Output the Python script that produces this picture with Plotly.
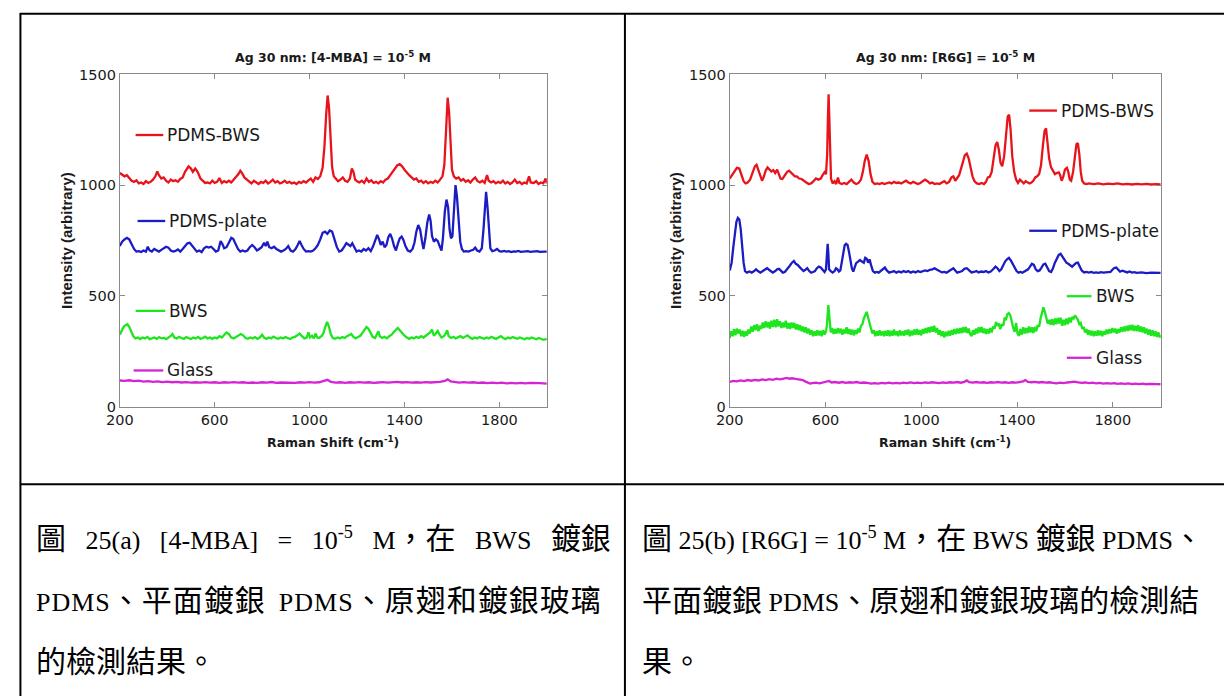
import plotly.graph_objects as go

# ---------------- data ----------------
# Panel (a): [4-MBA] = 1e-5 M
mba_pdms_bws = [(200,1055),(210,1048),(220,1040),(230,1045),(240,1030),(250,1020),(260,1015),(270,1022),(280,1008),(290,1012),(300,1005),(310,1018),(320,1010),(330,1015),(340,1025),(350,1040),(358,1062),(365,1045),(375,1030),(385,1035),(395,1020),(405,1012),(415,1025),(425,1018),(435,1022),(445,1015),(455,1028),(465,1035),(475,1060),(490,1085),(500,1075),(508,1060),(518,1075),(528,1060),(540,1030),(550,1018),(560,1010),(570,1012),(580,1008),(590,1020),(600,1010),(610,1015),(620,1032),(630,1010),(640,1018),(650,1012),(660,1020),(670,1012),(680,1025),(690,1035),(700,1050),(708,1065),(715,1055),(725,1035),(735,1025),(745,1015),(755,1008),(765,1020),(775,1012),(785,1005),(795,1015),(805,1010),(815,1020),(825,1008),(835,1015),(845,1025),(855,1012),(865,1018),(875,1008),(885,1012),(895,1020),(905,1010),(915,1015),(925,1008),(935,1012),(945,1005),(955,1015),(965,1010),(975,1018),(985,1012),(995,1022),(1005,1030),(1015,1015),(1025,1035),(1035,1028),(1045,1040),(1055,1080),(1063,1180),(1070,1320),(1076,1405),(1082,1350),(1088,1200),(1095,1080),(1102,1040),(1110,1030),(1120,1018),(1130,1025),(1140,1035),(1150,1020),(1160,1015),(1170,1030),(1178,1075),(1185,1060),(1192,1025),(1200,1018),(1210,1012),(1220,1020),(1230,1010),(1240,1030),(1250,1015),(1260,1022),(1270,1010),(1280,1015),(1290,1008),(1300,1018),(1310,1012),(1320,1025),(1330,1030),(1340,1045),(1350,1060),(1360,1075),(1370,1090),(1380,1095),(1390,1085),(1400,1070),(1410,1055),(1420,1045),(1430,1035),(1440,1025),(1450,1030),(1460,1015),(1470,1020),(1480,1010),(1490,1018),(1500,1008),(1510,1015),(1520,1010),(1530,1020),(1540,1012),(1550,1025),(1560,1040),(1568,1090),(1575,1250),(1582,1395),(1588,1330),(1594,1170),(1600,1070),(1608,1040),(1618,1030),(1628,1035),(1638,1020),(1648,1028),(1658,1015),(1668,1022),(1678,1012),(1688,1025),(1698,1035),(1708,1018),(1718,1012),(1728,1020),(1738,1010),(1748,1045),(1755,1020),(1765,1012),(1775,1018),(1785,1008),(1795,1015),(1805,1010),(1815,1020),(1825,1008),(1835,1015),(1845,1005),(1855,1012),(1865,1025),(1875,1010),(1885,1015),(1895,1005),(1905,1012),(1915,1008),(1925,1040),(1932,1012),(1945,1010),(1955,1018),(1965,1005),(1975,1012),(1985,1008),(1995,1030),(2000,1008)]

mba_pdms_plate = [(200,725),(210,745),(220,755),(230,762),(240,755),(250,735),(260,712),(270,700),(280,702),(290,698),(300,705),(310,700),(318,722),(326,705),(335,700),(345,712),(355,705),(365,700),(375,708),(385,715),(395,722),(405,718),(415,705),(425,700),(435,703),(445,710),(455,700),(465,712),(475,725),(485,738),(495,740),(505,728),(515,712),(525,700),(535,705),(545,698),(555,715),(565,722),(575,718),(585,722),(595,712),(605,700),(615,705),(625,748),(632,735),(640,715),(650,720),(660,745),(670,762),(678,758),(688,735),(698,712),(708,700),(718,705),(728,700),(738,705),(748,720),(758,730),(768,720),(778,705),(788,712),(798,720),(808,740),(815,725),(822,745),(830,720),(840,715),(850,722),(860,712),(870,705),(880,700),(890,705),(900,712),(910,725),(920,705),(930,700),(940,710),(950,730),(958,748),(966,730),(975,712),(985,700),(995,702),(1005,700),(1015,705),(1025,715),(1035,730),(1045,755),(1055,785),(1065,790),(1075,780),(1085,795),(1095,790),(1105,755),(1115,720),(1125,700),(1135,705),(1145,720),(1155,738),(1163,732),(1172,725),(1180,738),(1188,718),(1198,700),(1208,705),(1218,700),(1228,712),(1238,705),(1248,715),(1258,702),(1268,725),(1278,760),(1285,775),(1293,755),(1300,730),(1308,745),(1316,720),(1324,730),(1332,765),(1340,780),(1348,758),(1356,725),(1364,705),(1372,735),(1380,760),(1388,768),(1396,752),(1404,725),(1414,705),(1424,700),(1434,712),(1442,740),(1450,790),(1458,820),(1466,800),(1474,745),(1480,712),(1488,760),(1496,830),(1504,868),(1510,840),(1516,770),(1524,745),(1532,755),(1540,748),(1548,725),(1556,705),(1562,760),(1570,880),(1577,935),(1584,900),(1590,800),(1596,760),(1602,770),(1608,900),(1615,1000),(1621,950),(1628,820),(1635,745),(1642,712),(1650,700),(1660,702),(1670,700),(1680,705),(1690,708),(1698,718),(1706,705),(1716,700),(1726,715),(1733,800),(1739,930),(1744,970),(1750,900),(1756,780),(1762,715),(1770,702),(1780,705),(1790,712),(1800,702),(1810,700),(1820,703),(1830,700),(1840,702),(1850,698),(1860,701),(1870,700),(1880,703),(1890,699),(1900,701),(1910,700),(1920,702),(1930,699),(1940,701),(1950,700),(1960,702),(1970,699),(1980,701),(1990,700),(2000,700)]

mba_bws = [(200,325),(208,345),(216,360),(224,368),(232,372),(240,360),(248,340),(256,320),(266,308),(276,312),(286,305),(296,312),(306,308),(316,315),(326,305),(336,310),(346,312),(356,306),(366,314),(376,308),(386,310),(396,305),(406,312),(416,320),(422,328),(430,312),(440,308),(450,315),(460,310),(470,306),(480,314),(490,310),(500,305),(510,312),(520,308),(530,315),(540,306),(550,310),(560,316),(570,308),(580,312),(590,306),(600,312),(610,308),(620,318),(630,312),(640,325),(650,335),(660,328),(670,312),(680,308),(690,315),(700,318),(710,328),(720,322),(730,310),(740,306),(750,312),(760,308),(770,314),(780,306),(790,312),(800,325),(808,312),(818,306),(828,312),(838,308),(848,316),(858,310),(868,306),(878,312),(888,308),(898,314),(908,310),(918,305),(928,312),(938,315),(948,322),(958,330),(968,318),(978,308),(988,312),(995,335),(1002,312),(1010,320),(1018,308),(1025,330),(1032,312),(1040,310),(1050,318),(1058,330),(1066,360),(1074,382),(1082,360),(1090,325),(1098,310),(1108,306),(1118,312),(1128,308),(1138,314),(1148,310),(1158,318),(1168,322),(1176,328),(1184,316),(1194,308),(1204,314),(1214,320),(1224,335),(1232,350),(1240,360),(1248,352),(1256,335),(1266,315),(1276,310),(1284,325),(1290,340),(1296,318),(1306,310),(1316,315),(1326,308),(1336,318),(1346,325),(1356,338),(1364,348),(1372,355),(1380,345),(1390,330),(1400,320),(1410,312),(1420,306),(1430,312),(1440,308),(1450,315),(1460,310),(1470,318),(1480,312),(1490,320),(1500,328),(1508,335),(1516,348),(1524,320),(1532,330),(1540,342),(1548,325),(1556,312),(1566,318),(1574,330),(1580,345),(1586,318),(1596,310),(1606,315),(1616,308),(1626,312),(1636,318),(1646,310),(1656,316),(1666,322),(1676,312),(1686,306),(1696,312),(1706,308),(1716,314),(1726,310),(1736,306),(1746,312),(1756,308),(1766,315),(1776,310),(1786,306),(1796,312),(1806,318),(1816,310),(1826,305),(1836,312),(1846,308),(1856,314),(1866,310),(1876,306),(1886,312),(1896,308),(1906,304),(1916,310),(1926,306),(1936,312),(1946,308),(1956,304),(1966,310),(1976,306),(1986,302),(2000,306)]

mba_glass = [(200,118),(220,116),(240,119),(260,115),(280,117),(300,113),(320,115),(340,112),(360,114),(380,111),(400,113),(420,110),(440,112),(460,109),(480,111),(500,108),(520,110),(540,108),(560,111),(580,108),(600,110),(620,107),(640,110),(660,108),(680,111),(700,108),(720,110),(740,107),(760,109),(780,107),(800,110),(820,108),(840,111),(860,107),(880,109),(900,108),(920,110),(940,107),(960,110),(980,108),(1000,111),(1020,108),(1040,110),(1060,115),(1075,121),(1090,112),(1110,108),(1130,110),(1150,107),(1170,110),(1190,108),(1210,111),(1230,108),(1250,110),(1270,107),(1290,109),(1310,111),(1330,108),(1350,110),(1370,112),(1390,109),(1410,111),(1430,108),(1450,110),(1470,108),(1490,111),(1510,109),(1530,110),(1550,112),(1570,116),(1582,123),(1595,114),(1610,110),(1630,108),(1650,111),(1670,108),(1690,110),(1710,107),(1730,109),(1750,106),(1770,108),(1790,106),(1810,108),(1830,105),(1850,107),(1870,105),(1890,107),(1910,105),(1930,107),(1950,105),(1970,106),(2000,104)]

# Panel (b): [R6G] = 1e-5 M
r6g_pdms_bws = [(200,1030),(210,1045),(220,1060),(230,1078),(240,1075),(250,1045),(258,1018),(266,1008),(275,1012),(285,1025),(295,1055),(305,1085),(312,1092),(320,1065),(328,1035),(335,1020),(343,1040),(350,1065),(358,1080),(366,1070),(374,1062),(382,1068),(390,1055),(398,1070),(405,1045),(412,1030),(420,1028),(430,1045),(440,1060),(448,1065),(456,1058),(464,1048),(472,1040),(480,1040),(490,1030),(500,1028),(510,1018),(520,1012),(530,1005),(540,1008),(550,1018),(560,1030),(570,1025),(580,1030),(588,1045),(596,1058),(602,1050),(607,1140),(610,1300),(613,1410),(616,1300),(619,1120),(623,1030),(630,1008),(638,1018),(645,1005),(652,1035),(658,1010),(668,1005),(678,1010),(688,1005),(698,1015),(708,1025),(718,1012),(728,1005),(738,1010),(748,1025),(756,1060),(764,1110),(772,1138),(780,1110),(788,1050),(796,1015),(806,1005),(816,1008),(826,1005),(836,1010),(846,1005),(856,1008),(866,1012),(876,1008),(886,1015),(896,1010),(906,1012),(916,1008),(926,1015),(936,1020),(946,1012),(956,1008),(966,1015),(976,1010),(986,1005),(996,1010),(1006,1018),(1016,1025),(1026,1018),(1036,1008),(1046,1012),(1056,1005),(1066,1008),(1076,1005),(1086,1012),(1096,1018),(1106,1008),(1116,1015),(1126,1035),(1134,1040),(1142,1020),(1150,1030),(1158,1045),(1166,1075),(1174,1110),(1182,1135),(1190,1142),(1198,1120),(1206,1080),(1214,1040),(1222,1018),(1232,1008),(1242,1005),(1252,1010),(1262,1005),(1270,1015),(1278,1035),(1286,1038),(1294,1060),(1302,1120),(1310,1180),(1317,1195),(1324,1160),(1331,1100),(1338,1085),(1346,1130),(1354,1230),(1361,1310),(1367,1318),(1373,1250),(1380,1130),(1388,1060),(1396,1025),(1404,1010),(1412,1025),(1420,1015),(1428,1008),(1436,1018),(1444,1012),(1452,1008),(1460,1012),(1468,1020),(1476,1035),(1484,1040),(1492,1050),(1500,1090),(1508,1180),(1515,1245),(1521,1257),(1527,1200),(1534,1120),(1542,1080),(1550,1065),(1558,1050),(1566,1055),(1574,1058),(1580,1045),(1586,1020),(1592,1035),(1600,1070),(1608,1078),(1614,1060),(1620,1025),(1626,1020),(1634,1060),(1642,1130),(1648,1185),(1654,1190),(1660,1140),(1666,1060),(1672,1020),(1680,1008),(1690,1005),(1700,1008),(1720,1005),(1740,1008),(1760,1004),(1780,1007),(1800,1005),(1820,1008),(1840,1004),(1860,1006),(1880,1003),(1900,1006),(1920,1004),(1940,1006),(1960,1003),(1980,1005),(2000,1004)]

r6g_pdms_plate = [(200,615),(208,650),(215,720),(222,790),(228,835),(234,852),(240,845),(246,800),(252,720),(258,650),(264,612),(272,605),(282,610),(292,605),(302,612),(310,620),(318,612),(328,605),(338,612),(348,620),(356,625),(364,618),(372,610),(380,605),(390,612),(398,620),(406,622),(414,612),(422,605),(430,608),(440,620),(450,635),(460,650),(468,658),(476,645),(484,640),(492,630),(500,620),(508,612),(516,618),(524,625),(532,612),(540,605),(548,608),(556,612),(564,625),(572,632),(580,628),(588,615),(596,608),(602,620),(606,680),(609,735),(612,690),(615,620),(622,612),(630,605),(638,612),(644,625),(650,620),(656,610),(662,615),(668,650),(674,700),(680,728),(686,735),(692,730),(698,700),(704,665),(710,625),(716,610),(722,625),(728,648),(736,655),(744,662),(752,655),(760,650),(766,672),(772,668),(778,650),(784,665),(790,640),(798,612),(806,605),(814,608),(822,605),(830,612),(840,620),(848,628),(856,615),(866,605),(876,608),(886,612),(896,605),(906,610),(916,606),(926,612),(936,608),(946,612),(956,605),(966,610),(976,606),(986,612),(996,608),(1006,612),(1016,615),(1026,612),(1036,618),(1046,620),(1056,625),(1066,618),(1076,610),(1086,606),(1096,608),(1106,605),(1116,612),(1126,620),(1134,625),(1142,615),(1150,605),(1160,608),(1170,612),(1180,622),(1190,625),(1200,615),(1210,606),(1220,608),(1230,612),(1240,606),(1250,610),(1260,608),(1270,612),(1280,606),(1290,610),(1300,620),(1310,632),(1318,625),(1326,612),(1334,620),(1342,638),(1350,655),(1358,665),(1366,672),(1374,660),(1382,645),(1390,628),(1398,612),(1406,605),(1414,608),(1422,605),(1430,610),(1438,612),(1446,620),(1454,632),(1462,645),(1470,640),(1478,620),(1486,612),(1494,615),(1502,628),(1510,642),(1518,645),(1526,630),(1534,612),(1542,608),(1550,625),(1558,650),(1566,672),(1574,685),(1582,690),(1590,675),(1598,660),(1606,650),(1614,645),(1622,640),(1630,632),(1638,640),(1646,648),(1654,650),(1662,635),(1670,615),(1680,606),(1690,608),(1700,605),(1710,608),(1720,604),(1730,606),(1740,604),(1750,607),(1760,605),(1770,606),(1780,604),(1790,608),(1798,618),(1806,626),(1814,628),(1822,618),(1830,610),(1840,614),(1850,610),(1860,606),(1870,610),(1880,605),(1890,607),(1900,604),(1920,606),(1940,603),(1960,605),(1980,603),(2000,604)]

r6g_bws = [(200,310),(206,340),(212,318),(218,350),(224,322),(230,352),(236,330),(242,348),(248,318),(254,342),(260,315),(266,340),(272,320),(278,348),(284,330),(290,362),(296,338),(302,368),(308,345),(314,372),(320,340),(326,365),(332,350),(338,380),(344,355),(350,385),(356,358),(362,382),(368,352),(374,388),(380,360),(386,392),(392,358),(398,395),(404,362),(410,385),(416,355),(422,380),(428,358),(434,388),(440,352),(446,378),(452,350),(458,380),(464,355),(470,378),(476,348),(482,372),(488,345),(494,368),(500,340),(506,362),(512,335),(518,358),(524,330),(530,352),(536,325),(542,345),(548,318),(554,340),(560,320),(566,345),(572,322),(578,342),(584,318),(590,345),(596,325),(602,340),(606,370),(609,420),(612,458),(615,420),(618,372),(622,335),(628,355),(634,328),(640,350),(646,330),(652,355),(658,332),(664,352),(670,325),(676,348),(682,330),(688,358),(694,328),(700,350),(706,325),(712,348),(718,322),(724,345),(730,328),(736,352),(742,335),(748,365),(754,372),(760,398),(766,418),(772,428),(778,402),(784,368),(790,352),(796,330),(802,345),(808,318),(814,340),(820,320),(826,345),(832,322),(838,340),(844,318),(850,342),(856,320),(862,345),(868,318),(874,342),(880,320),(886,348),(892,322),(898,340),(904,318),(910,345),(916,322),(922,340),(928,320),(934,345),(940,325),(946,348),(952,318),(958,342),(964,322),(970,348),(976,325),(982,350),(988,325),(994,345),(1000,322),(1006,350),(1012,330),(1018,355),(1024,332),(1030,358),(1036,335),(1042,362),(1048,338),(1054,365),(1060,335),(1066,355),(1072,325),(1078,345),(1084,318),(1090,340),(1096,312),(1102,338),(1108,318),(1114,342),(1120,320),(1126,345),(1132,325),(1138,350),(1144,328),(1150,352),(1156,330),(1162,355),(1168,332),(1174,358),(1180,335),(1186,360),(1192,332),(1198,352),(1204,328),(1210,318),(1216,345),(1222,325),(1228,352),(1234,330),(1240,358),(1246,335),(1252,360),(1258,332),(1264,352),(1270,328),(1276,350),(1282,330),(1288,355),(1294,335),(1300,362),(1306,352),(1312,382),(1318,365),(1324,375),(1330,350),(1336,372),(1342,365),(1348,398),(1354,395),(1360,418),(1366,422),(1372,412),(1378,380),(1384,355),(1390,338),(1396,378),(1402,330),(1408,320),(1414,350),(1420,325),(1426,358),(1432,330),(1438,355),(1444,332),(1450,362),(1456,335),(1462,358),(1468,332),(1474,360),(1480,340),(1486,368),(1492,360),(1498,398),(1504,418),(1510,448),(1516,428),(1522,398),(1528,375),(1534,392),(1540,370),(1546,395),(1552,368),(1558,398),(1564,372),(1570,400),(1576,375),(1582,402),(1588,365),(1594,392),(1600,368),(1606,398),(1612,372),(1618,402),(1624,380),(1630,405),(1636,398),(1642,412),(1648,402),(1654,392),(1660,372),(1666,378),(1672,352),(1678,360),(1684,335),(1690,350),(1696,325),(1702,345),(1708,322),(1714,342),(1720,318),(1726,340),(1732,320),(1738,345),(1744,322),(1750,342),(1756,318),(1762,340),(1768,325),(1774,348),(1780,328),(1786,350),(1792,332),(1798,355),(1804,335),(1810,352),(1816,330),(1822,350),(1828,335),(1834,358),(1840,338),(1846,362),(1852,340),(1858,365),(1864,342),(1870,368),(1876,345),(1882,370),(1888,342),(1894,365),(1900,340),(1906,368),(1912,338),(1918,362),(1924,335),(1930,358),(1936,330),(1942,352),(1948,325),(1954,348),(1960,320),(1966,345),(1972,318),(1978,340),(1984,315),(1990,335),(1996,312),(2000,325)]

r6g_glass = [(200,112),(215,116),(230,114),(245,118),(260,115),(275,120),(290,117),(305,121),(320,118),(335,123),(350,120),(365,124),(380,121),(395,126),(410,123),(425,127),(440,130),(450,126),(460,128),(475,125),(490,124),(505,120),(515,114),(525,108),(535,104),(545,106),(560,108),(575,105),(590,109),(605,112),(615,116),(625,109),(640,111),(655,108),(670,111),(685,107),(700,110),(715,108),(730,111),(745,107),(760,109),(775,107),(790,104),(805,106),(820,104),(835,107),(850,105),(865,108),(880,105),(895,107),(910,105),(925,108),(940,106),(955,109),(970,106),(985,108),(1000,106),(1015,109),(1030,107),(1045,110),(1060,108),(1075,106),(1090,109),(1105,107),(1120,110),(1135,108),(1150,111),(1165,108),(1180,112),(1190,118),(1200,110),(1215,108),(1230,111),(1245,108),(1260,110),(1275,107),(1290,110),(1305,108),(1320,111),(1335,108),(1350,110),(1365,107),(1380,110),(1395,108),(1410,111),(1425,114),(1435,120),(1445,112),(1460,110),(1475,112),(1490,109),(1505,111),(1520,108),(1535,110),(1550,107),(1565,105),(1580,108),(1595,106),(1610,109),(1625,111),(1640,113),(1655,110),(1670,107),(1685,109),(1700,106),(1715,108),(1730,105),(1745,107),(1760,104),(1775,106),(1790,104),(1805,106),(1820,103),(1835,105),(1850,103),(1865,105),(1880,102),(1895,104),(1910,102),(1925,104),(1940,101),(1955,103),(1970,101),(1985,102),(2000,101)]

series_names = ["PDMS-BWS", "PDMS-plate", "BWS", "Glass"]
series_colors = ["#e8141c", "#1c1cc4", "#1ee61e", "#d424d4"]
panel_a = [mba_pdms_bws, mba_pdms_plate, mba_bws, mba_glass]
panel_b = [r6g_pdms_bws, r6g_pdms_plate, r6g_bws, r6g_glass]

x_ticks = [200, 600, 1000, 1400, 1800]
y_ticks = [0, 500, 1000, 1500]

title_a = "Ag 30 nm: [4-MBA] = 10<sup>-5</sup> M"
title_b = "Ag 30 nm: [R6G] = 10<sup>-5</sup> M"
x_label = "Raman Shift (cm<sup>-1</sup>)"
y_label = "Intensity (arbitrary)"

# caption text
NB = "\u00a0"
def C(s, ls=0):  # CJK run, larger size
    extra = ";letter-spacing:%dpx" % ls if ls else ""
    return '<span style="font-size:30px%s">' % extra + s + '</span>'
def L(s, ls=0):  # Latin run
    if not ls:
        return s
    return '<span style="letter-spacing:%dpx">' % ls + s + '</span>'
SUP5 = "10<sup>-5</sup>"

caption_a = [
    C("圖") + NB*3 + "25(a)" + NB*3 + "[4-MBA]" + NB*3 + "=" + NB*3 + SUP5 + NB*3 + "M" + C("，在") + NB*3 + "BWS" + NB*3 + C("鍍銀"),
    L("PDMS", 1) + C("、平面鍍銀", 1) + NB*2 + L("PDMS", 1) + C("、原翅和鍍銀玻璃", 1),
    C("的檢測結果。"),
]
caption_b = [
    C("圖") + NB + "25(b)" + NB + "[R6G]" + NB + "=" + NB + SUP5 + NB + "M" + C("，在") + NB + "BWS" + NB + C("鍍銀") + NB + "PDMS" + C("、"),
    C("平面鍍銀") + NB + "PDMS" + C("、原翅和鍍銀玻璃的檢測結"),
    C("果。"),
]

# ---------------- layout helpers (pixel -> paper) ----------------
W, H = 1224, 696
def fx(p): return p / W
def fy(p): return 1 - p / H

fig = go.Figure()

for panel, xa, ya in [(panel_a, "x", "y"), (panel_b, "x2", "y2")]:
    for data, name, col in zip(panel, series_names, series_colors):
        xs = [p[0] for p in data]
        ys = [p[1] for p in data]
        fig.add_trace(go.Scatter(x=xs, y=ys, mode="lines", name=name,
                                 line=dict(color=col, width=2.3),
                                 xaxis=xa, yaxis=ya, showlegend=False))

axis_common = dict(showgrid=False, zeroline=False, showline=True,
                   linecolor="#8a8a8a", linewidth=1, mirror="ticks",
                   ticks="inside", ticklen=5, tickcolor="#8a8a8a",
                   tickfont=dict(family="DejaVu Sans", size=14.5, color="#1a1a1a"))

plot_a = (107, 539)
plot_b = (724, 1160)
plot_top, plot_bot = 68, 408

fig.update_layout(
    width=W, height=H, margin=dict(l=0, r=0, t=0, b=0),
    paper_bgcolor="white", plot_bgcolor="white", showlegend=False,
    xaxis=dict(domain=[fx(plot_a[0]), fx(plot_a[1])], range=[200, 2000],
               tickvals=x_ticks, anchor="y", **axis_common),
    yaxis=dict(domain=[fy(plot_bot), fy(plot_top)], range=[0, 1500],
               tickvals=y_ticks, anchor="x", **axis_common),
    xaxis2=dict(domain=[fx(plot_b[0]), fx(plot_b[1])], range=[200, 2000],
                tickvals=x_ticks, anchor="y2", **axis_common),
    yaxis2=dict(domain=[fy(plot_bot), fy(plot_top)], range=[0, 1500],
                tickvals=y_ticks, anchor="x2", **axis_common),
)

ann = []
shapes = []

# titles and axis labels
for (x0, x1), title, ylx in [(plot_a, title_a, 53), (plot_b, title_b, 669)]:
    cx = (x0 + x1) / 2
    ann.append(dict(text=title, x=fx(cx), y=fy(50), xref="paper", yref="paper",
                    showarrow=False, xanchor="center", yanchor="middle",
                    font=dict(family="DejaVu Sans", size=12.5, color="#1a1a1a", weight="bold")))
    ann.append(dict(text=x_label, x=fx(cx), y=fy(444), xref="paper", yref="paper",
                    showarrow=False, xanchor="center", yanchor="middle",
                    font=dict(family="DejaVu Sans", size=12.5, color="#1a1a1a", weight="bold")))
    ann.append(dict(text=y_label, x=fx(ylx), y=fy(238), xref="paper", yref="paper",
                    showarrow=False, xanchor="center", yanchor="middle", textangle=-90,
                    font=dict(family="Liberation Sans", size=15, color="#1a1a1a", weight="bold")))

# in-plot legend entries (pixel positions of line start, line end, row y)
legend_a = [(123, 151, 130), (125, 153, 218), (123, 153, 310), (121, 151, 371)]
legend_b = [(1027, 1055, 105), (1027, 1055, 228), (1065, 1090, 295), (1065, 1090, 358)]
for legend in (legend_a, legend_b):
    for (lx0, lx1, ly), name, col in zip(legend, series_names, series_colors):
        shapes.append(dict(type="line", xref="paper", yref="paper",
                           x0=fx(lx0), x1=fx(lx1), y0=fy(ly), y1=fy(ly),
                           line=dict(color=col, width=2.3)))
        ann.append(dict(text=name, x=fx(lx1 + 2), y=fy(ly), xref="paper", yref="paper",
                        showarrow=False, xanchor="left", yanchor="middle",
                        font=dict(family="DejaVu Sans", size=17, color="#1a1a1a")))

# table borders
tbl = dict(color="black", width=2)
shapes += [
    dict(type="line", xref="paper", yref="paper", x0=fx(6), x1=fx(1240), y0=fy(6), y1=fy(6), line=tbl),
    dict(type="line", xref="paper", yref="paper", x0=fx(6.5), x1=fx(6.5), y0=fy(5), y1=fy(710), line=tbl),
    dict(type="line", xref="paper", yref="paper", x0=fx(618), x1=fx(618), y0=fy(5), y1=fy(710), line=tbl),
    dict(type="line", xref="paper", yref="paper", x0=fx(6), x1=fx(1240), y0=fy(487.5), y1=fy(487.5), line=tbl),
]

# captions
cap_font = dict(family="Liberation Serif, Noto Sans CJK TC", size=26, color="black")
for lines, cx in [(caption_a, 20), (caption_b, 633)]:
    for txt, cy in zip(lines, [543, 606, 669]):
        ann.append(dict(text=txt, x=fx(cx), y=fy(cy), xref="paper", yref="paper",
                        showarrow=False, xanchor="left", yanchor="middle", font=cap_font))

fig.update_layout(annotations=ann, shapes=shapes)
fig.write_html("out.html",
               config={"displayModeBar": False},
               post_script="document.documentElement.style.margin='0';"
                           "document.body.style.margin='0';"
                           "document.body.style.overflow='hidden';")
